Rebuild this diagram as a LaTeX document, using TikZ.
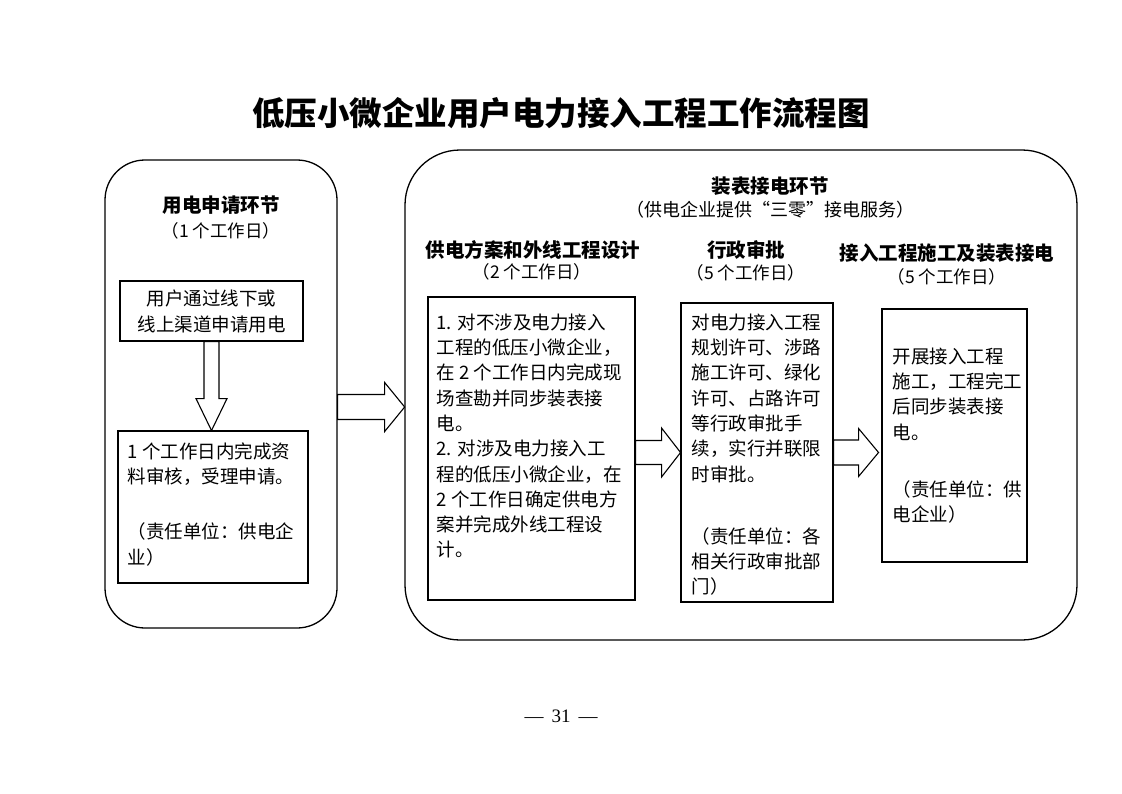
\documentclass[tikz,border=0pt]{standalone}
\usepackage{fontspec}
\setmainfont{Noto Sans CJK SC}
\newfontfamily\pagefont{Liberation Serif}
\usetikzlibrary{calc}
\tikzset{frame/.style = {
draw, line width=1.3pt, inner sep=0pt
}}
\tikzset{stepbox/.style = {draw, line width=1.1pt, inner sep=0pt}}
\tikzset{steptext/.style = {inner sep=0pt, anchor=north west, align=left, font=\fontsize{18.5}{25.3}\selectfont}}
\tikzset{phase/.style = {font=\bfseries\fontsize{19.5}{22}\selectfont}}
\tikzset{days/.style = {font=\fontsize{17.5}{20}\selectfont}}
\tikzset{blockarrow/.style = {draw, line width=1.1pt, fill=white, line join=miter}}

\begin{document}
\begin{tikzpicture}[x=1pt,y=-1pt]
\useasboundingbox (0,0) rectangle (1122,793);

\node[font=\bfseries\fontsize{32.5}{36}\selectfont] (title) at (561,113) {低压小微企业用户电力接入工程工作流程图};

% two stages
\node[frame,rounded corners=40pt,minimum width=232pt,minimum height=468pt] (apply) at (221,394) {};
\node[frame,rounded corners=55pt,minimum width=672pt,minimum height=490pt] (install) at (741,395) {};

\node[phase] (applyhead) at (221,205) {用电申请环节};
\node[days] (applydays) at (221,231) {（1 个工作日）};

\node[phase] (installhead) at (770,186) {装表接电环节};
\node[font=\fontsize{18}{20}\selectfont] (installnote) at (770,210) {（供电企业提供“三零”接电服务）};

\node[phase] (designhead) at (533,250) {供电方案和外线工程设计};
\node[days] (designdays) at (532,272) {（2 个工作日）};
\node[phase] (adminhead) at (746,250) {行政审批};
\node[days] (admindays) at (746,273) {（5 个工作日）};
\node[phase] (buildhead) at (947,253) {接入工程施工及装表接电};
\node[days] (builddays) at (947,277) {（5 个工作日）};

% boxes
\node[stepbox,minimum width=183pt,minimum height=60pt,align=center,font=\fontsize{18.5}{26}\selectfont] (req) at (211.5,311) {用户通过线下或\\线上渠道申请用电};
\node[stepbox,minimum width=190pt,minimum height=152pt] (check) at (213,507) {};
\node[stepbox,minimum width=207pt,minimum height=303pt] (design) at (531.5,448.5) {};
\node[stepbox,minimum width=152pt,minimum height=299pt] (admin) at (757,452.5) {};
\node[stepbox,minimum width=145pt,minimum height=253pt] (build) at (954.5,435.5) {};

\node[steptext] (checktext) at ($(check.north west)+(10,12)$) {1 个工作日内完成资\\料审核，受理申请。\\[30pt]（责任单位：供电企\\业）};
\node[steptext] (designtext) at ($(design.north west)+(9,17)$) {1. 对不涉及电力接入\\工程的低压小微企业，\\在 2 个工作日内完成现\\场查勘并同步装表接\\电。\\2. 对涉及电力接入工\\程的低压小微企业，在\\2 个工作日确定供电方\\案并完成外线工程设\\计。};
\node[steptext] (admintext) at ($(admin.north west)+(11,11)$) {对电力接入工程\\规划许可、涉路\\施工许可、绿化\\许可、占路许可\\等行政审批手\\续，实行并联限\\时审批。\\[37pt]（责任单位：各\\相关行政审批部\\门）};
\node[steptext] (buildtext) at ($(build.north west)+(11,39)$) {开展接入工程\\施工，工程完工\\后同步装表接\\电。\\[32pt]（责任单位：供\\电企业）};

% block arrows
\draw[blockarrow] (req.south) ++(-7.5,0) -- ++(0,57) -- ++(-8,0) -- ++(15.5,32) -- ++(15.5,-32) -- ++(-8,0) -- ++(0,-57) -- cycle;
\draw[blockarrow] ($(apply.east)+(0,13)$) ++(0,-12.5) -- ++(47,0) -- ++(0,-12) -- ++(20,24.5) -- ++(-20,24.5) -- ++(0,-12) -- ++(-47,0) -- cycle;
\draw[blockarrow] (design.east |- admin.west) ++(0,-12) -- ++(26,0) -- ++(0,-12.5) -- ++(19,24.5) -- ++(-19,24.5) -- ++(0,-12.5) -- ++(-26,0) -- cycle;
\draw[blockarrow] (admin.east) ++(0,-12.5) -- ++(25,0) -- ++(0,-11.5) -- ++(20,24) -- ++(-20,24) -- ++(0,-11.5) -- ++(-25,0) -- cycle;

\node[font=\pagefont\fontsize{19}{22}\selectfont] (page) at (561,716) {—\hspace{8pt}31\hspace{8pt}—};
\end{tikzpicture}
\end{document}
